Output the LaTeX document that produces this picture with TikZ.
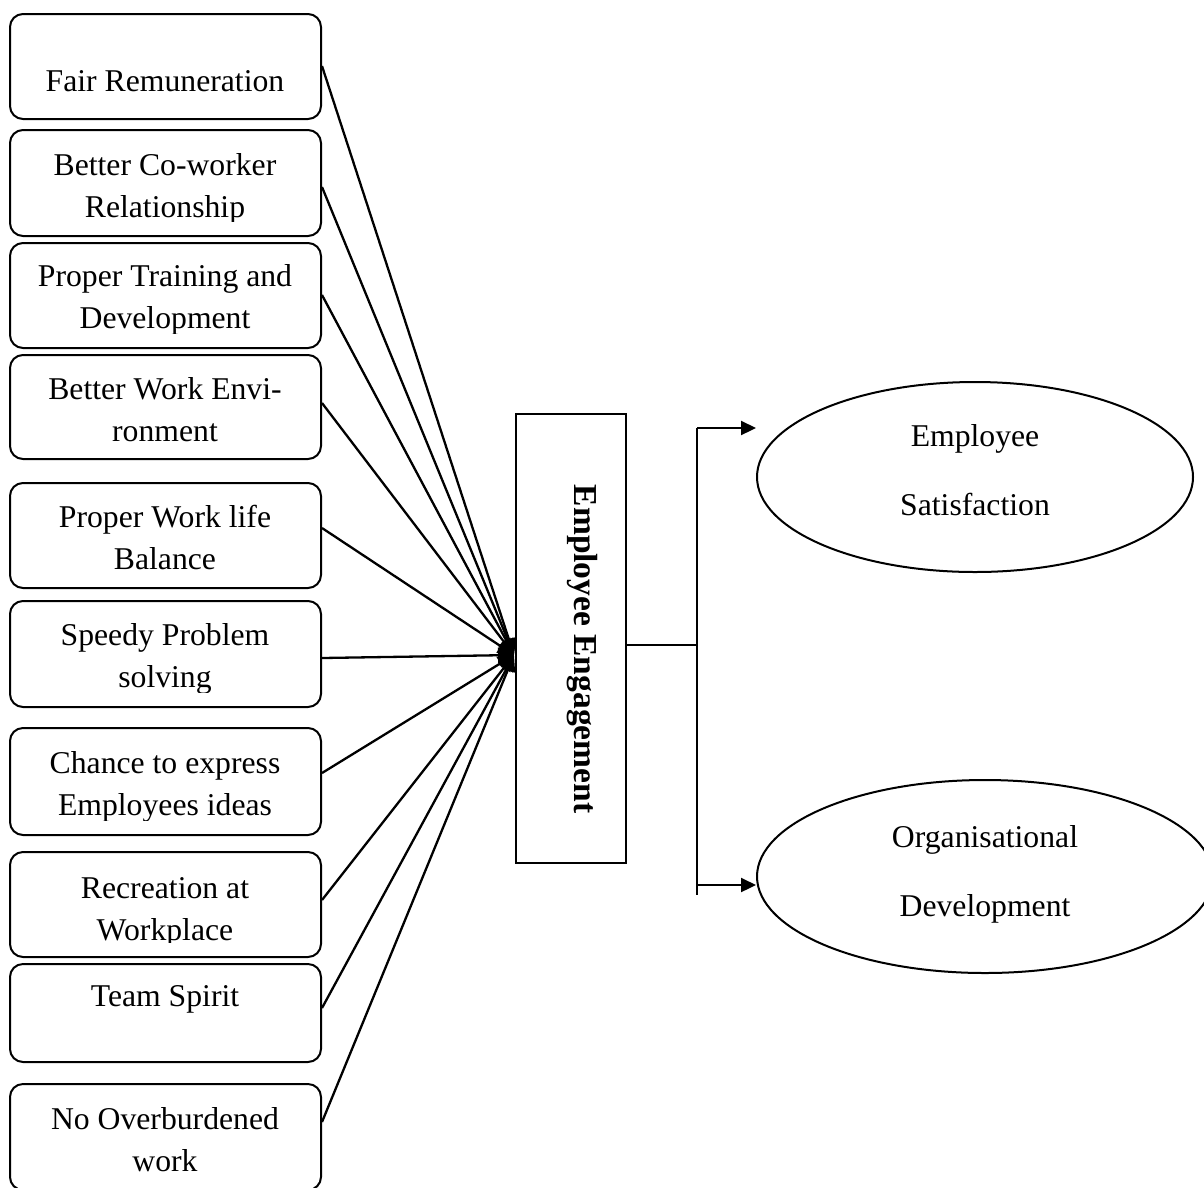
\documentclass[tikz,border=0pt]{standalone}
\usepackage{fontspec}
\setmainfont{Liberation Serif}
\usetikzlibrary{arrows.meta,shapes.geometric}
\tikzset{
  fbx/.style={draw, line width=2pt, rounded corners=13pt, minimum width=311pt, inner sep=0pt},
  ftxt/.style={align=center, inner sep=0pt, font=\fontsize{31.7}{42}\selectfont},
  conn/.style={line width=2.3pt, -{Triangle[length=16pt,width=15pt]}},
  ell/.style={draw, ellipse, line width=2pt, inner sep=0pt},
  thinline/.style={line width=1.5pt},
  outarr/.style={line width=2.2pt, -{Triangle[length=15pt,width=14pt]}}
}
% name, top, bottom, text centre, text
\newcommand{\factorbox}[5]{%
  \node[fbx, minimum height={(#3-#2)*1pt}] (#1) at (165.5,{(#2+#3)/2}) {};
  \begin{scope}
    \clip (10,#2) rectangle (321,{#3-15});
    \node[ftxt] (#1t) at (165,#4) {#5};
  \end{scope}}
\begin{document}
\begin{tikzpicture}[x=1pt,y=-1pt]
\useasboundingbox (0,0) rectangle (1204,1187);
\clip (0,0) rectangle (1204,1187);

\factorbox{b1}{14}{119}{82.6}{\strut Fair Remuneration}
\factorbox{b2}{130}{236}{187.6}{\strut Better Co-worker\\\strut Relationship}
\factorbox{b3}{243}{348}{298.6}{\strut Proper Training and\\\strut Development}
\factorbox{b4}{355}{459}{411.6}{\strut Better Work Envi-\\\strut ronment}
\factorbox{b5}{483}{588}{539.6}{\strut Proper Work life\\\strut Balance}
\factorbox{b6}{601}{707}{657.6}{\strut Speedy Problem\\\strut solving}
\factorbox{b7}{728}{835}{785.6}{\strut Chance to express\\\strut Employees ideas}
\factorbox{b8}{852}{957}{910.6}{\strut Recreation at\\\strut Workplace}
\factorbox{b9}{964}{1062}{997.6}{\strut Team Spirit}
\factorbox{b10}{1084}{1190}{1141.6}{\strut No Overburdened\\\strut work}

% central box
\node[draw, line width=2pt, minimum width=110pt, minimum height=449pt, inner sep=0pt] (ee) at (571,638.5) {};
\node[rotate=-90, inner sep=0pt, font=\fontsize{33.5}{40}\selectfont\bfseries] (eet) at (582,649) {Employee Engagement};

\coordinate (hub) at ([xshift=-1pt,yshift=-16.5pt]ee.west);

\draw[conn] ([yshift=0.5pt]b1.east) -- (hub);
\draw[conn] ([yshift=-4pt]b2.east) -- (hub);
\draw[conn] ([yshift=0.5pt]b3.east) -- (hub);
\draw[conn] ([yshift=4pt]b4.east) -- (hub);
\draw[conn] ([yshift=7.5pt]b5.east) -- (hub);
\draw[conn] ([yshift=-4pt]b6.east) -- (hub);
\draw[conn] ([yshift=8.5pt]b7.east) -- (hub);
\draw[conn] ([yshift=4.5pt]b8.east) -- (hub);
\draw[conn] ([yshift=5pt]b9.east) -- (hub);
\draw[conn] ([yshift=15pt]b10.east) -- (hub);

% outcomes
\node[ell, minimum width=436pt, minimum height=190pt] (e1) at (975,477) {};
\node[ftxt] (e1t) at (975,473) {\strut Employee\\[27pt]\strut Satisfaction};
\node[ell, minimum width=456pt, minimum height=193pt] (e2) at (985,876.5) {};
\node[ftxt] (e2t) at (985,874) {\strut Organisational\\[27pt]\strut Development};

\coordinate (jn) at (697,645);
\coordinate (j1) at (697,428);
\coordinate (j2) at (697,885);
\draw[thinline] ([yshift=-6.5pt]ee.east) -- (jn);
\draw[line width=2pt] (j1) -- ([yshift=-10pt]j2);
\draw[outarr] (j1) -- (e1.west |- j1);
\draw[outarr] (j2) -- (e2.west |- j2);
\end{tikzpicture}
\end{document}
